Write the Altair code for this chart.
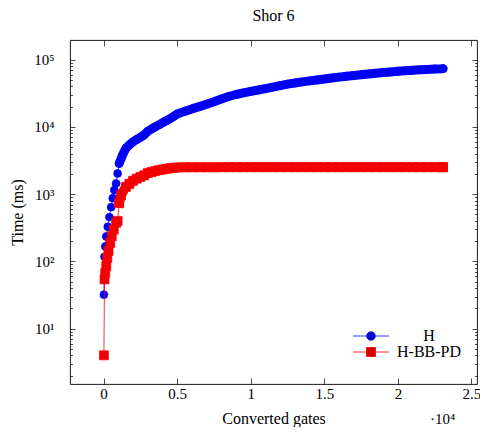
import altair as alt
import pandas as pd

# ---- data ----
series = ["H", "H-BB-PD"]

h_gates = [20, 60, 110, 180, 280, 390, 510, 620, 730, 850, 950, 1060, 1290, 1510,
           1750, 2000, 2250, 2500, 2750, 3000, 3250, 3500, 3750, 4000, 4250, 4500, 4750,
           5000, 5500, 6000, 6500, 7000, 7500, 8000, 8500, 9000, 9500, 10000, 10500,
           11000, 11500, 12000, 12500, 13000, 13500, 14000, 14500, 15000, 15500, 16000,
           16500, 17000, 17500, 18000, 18500, 19000, 19500, 20000, 20500, 21000, 21500,
           22000, 22500, 23000, 23070]
h_time = [32, 117, 166, 234, 327, 455, 640, 870, 1150, 1440, 2030, 2860, 3830, 4800,
          5400, 6000, 6500, 7000, 7600, 8600, 9300, 10000, 10700, 11500, 12300, 13200, 14300,
          15500, 17000, 18500, 20000, 21700, 23700, 26000, 28300, 30300, 32000, 33700, 35300,
          37000, 39000, 41000, 43200, 45000, 46700, 48300, 49900, 51500, 53300, 55000,
          56600, 58200, 59800, 61300, 62800, 64300, 65700, 67000, 68200, 69400, 70500,
          71500, 72500, 73300, 73500]

r_gates = [20, 60, 110, 180, 250, 330, 450, 550, 690, 850, 950, 1060, 1180, 1510,
           1750, 2000, 2250, 2500, 2750, 3000, 3250, 3500, 3750, 4000, 4250, 4500, 4750,
           5000, 5500, 6000, 6500, 7000, 7500, 8000, 8500, 9000, 9500, 10000, 10500,
           11000, 11500, 12000, 12500, 13000, 13500, 14000, 14500, 15000, 15500, 16000,
           16500, 17000, 17500, 18000, 18500, 19000, 19500, 20000, 20500, 21000, 21500,
           22000, 22500, 23000, 23070]
r_time = [4, 54, 67, 85, 113, 142, 188, 236, 297, 375, 400, 740, 960, 1280,
          1420, 1580, 1700, 1800, 1900, 2050, 2130, 2200, 2270, 2320, 2380, 2420, 2460,
          2490, 2500, 2500, 2500, 2500, 2500, 2510, 2510, 2510, 2510, 2510, 2510,
          2510, 2510, 2510, 2510, 2510, 2510, 2510, 2510, 2510, 2510, 2510,
          2510, 2510, 2510, 2510, 2510, 2510, 2510, 2510, 2510, 2510, 2510,
          2510, 2510, 2510, 2510]

x_tick_values = [0, 5000, 10000, 15000, 20000, 25000]
y_label_values = [10, 100, 1000, 10000, 100000]

# ---- layout ----
W, H = 407, 344
XD = [-2285, 25375]
YD = [1.50, 195900]
FONT = "Liberation Serif"
FS = 16
BAND_START = 1000  # beyond this the markers are so dense they form a solid band

df_h = pd.DataFrame({"gates": h_gates, "time": h_time, "series": "H"})
df_r = pd.DataFrame({"gates": r_gates, "time": r_time, "series": "H-BB-PD"})
df_all = pd.concat([df_h, df_r], ignore_index=True)

y_all_ticks = [m * 10 ** k for k in range(0, 6) for m in range(1, 10)
               if YD[0] <= m * 10 ** k <= YD[1]]
major_test = "abs(log(datum.value)/LN10 - round(log(datum.value)/LN10)) < 0.01"
y_tick_size = {"condition": {"test": major_test, "value": 5}, "value": 2.5}

xs = alt.Scale(domain=XD, nice=False, zero=False)
ys = alt.Scale(type="log", domain=YD, nice=False)

sup = "['\u2070','\u00b9','\u00b2','\u00b3','\u2074','\u2075']"

x_main = alt.X("gates:Q", scale=xs, axis=alt.Axis(
    values=x_tick_values, labelExpr="'' + datum.value/10000", title="Converted gates",
    tickSize=0, domain=False, grid=False, labelPadding=2, titlePadding=9,
    labelFlush=False, labelOverlap=False,
    labelFont=FONT, labelFontSize=FS - 1, titleFont=FONT, titleFontSize=FS,
    titleFontWeight="normal", labelColor="black", titleColor="black"))
y_main = alt.Y("time:Q", scale=ys, axis=alt.Axis(
    values=y_label_values,
    labelExpr="'10' + " + sup + "[round(log(datum.value)/LN10)]",
    title="Time (ms)", tickSize=0, domain=False, grid=False, labelPadding=16,
    labelFlush=False, labelOverlap=False,
    titlePadding=8, labelFont=FONT, labelFontSize=FS - 1, titleFont=FONT,
    titleFontSize=FS, titleFontWeight="normal", labelColor="black", titleColor="black"))

base_h = alt.Chart(df_h)
base_r = alt.Chart(df_r)

band_h = base_h.transform_filter(alt.datum.gates >= BAND_START).mark_line(
    color="#0000ff", strokeWidth=9, strokeCap="round", strokeJoin="round").encode(x=x_main, y=y_main)
line_h = base_h.mark_line(color="#0000ff", strokeWidth=0.8).encode(x=x_main, y=y_main)
pts_h = base_h.mark_point(shape="circle", filled=True, fill="#0000f0", stroke="#0000ff",
                          strokeWidth=0.7, size=62, opacity=1).encode(x=x_main, y=y_main)
band_r = base_r.transform_filter(alt.datum.gates >= BAND_START).mark_line(
    color="#ff0000", strokeWidth=9.5, strokeCap="square", strokeJoin="miter").encode(x=x_main, y=y_main)
line_r = base_r.mark_line(color="#ff0000", strokeWidth=0.8).encode(x=x_main, y=y_main)
pts_r = base_r.mark_point(shape="square", filled=True, fill="#f00000", stroke="#ff0000",
                          strokeWidth=0.7, size=81, opacity=1).encode(x=x_main, y=y_main)

circle_path = "M-3.6,0L3.6,0M0.86,0A0.86,0.86,0,1,1,-0.86,0A0.86,0.86,0,1,1,0.86,0Z"
square_path = "M-3.6,0L3.6,0M-0.9,-0.9L0.9,-0.9L0.9,0.9L-0.9,0.9Z"

leg = alt.Legend(title=None, orient="none", legendX=293, legendY=288, padding=0,
                 symbolSize=100, symbolStrokeWidth=0.8, labelFont=FONT, labelFontSize=FS,
                 labelColor="black", labelOffset=50, labelAlign="center", rowPadding=0)
legend_layer = alt.Chart(df_all).transform_filter("datum.time < 0").mark_point(
    filled=True, size=100, strokeWidth=0.8, opacity=1).encode(
    x=x_main, y=y_main,
    fill=alt.Fill("series:N", scale=alt.Scale(domain=series, range=["#0000cc", "#cc0000"]), legend=leg),
    stroke=alt.Stroke("series:N", scale=alt.Scale(domain=series, range=["#0000ff", "#ff0000"]), legend=leg),
    shape=alt.Shape("series:N", scale=alt.Scale(domain=series, range=[circle_path, square_path]), legend=leg),
)

data_group = alt.layer(band_h, line_h, pts_h, band_r, line_r, pts_r, legend_layer)

# ---- inward tick marks (pgfplots style) on all four sides ----
anchor = pd.DataFrame({"gates": [0], "time": [10]})

ticks_a = alt.Chart(anchor).mark_point(opacity=0).encode(
    x=alt.X("gates:Q", scale=xs, axis=alt.Axis(
        orient="top", offset=-H, values=x_tick_values, labels=False, domain=False,
        grid=False, tickSize=6, tickColor="black", tickWidth=0.7,
        title="\u00b710\u2074", titleX=372, titleY=39, titleAngle=0, titleAlign="center",
        titleBaseline="alphabetic", titleFont=FONT, titleFontSize=FS - 1,
        titleFontWeight="normal", titleColor="black")),
    y=alt.Y("time:Q", scale=ys, axis=alt.Axis(
        orient="right", offset=-W, values=y_all_ticks, labels=False, domain=False,
        grid=False, tickSize=y_tick_size, tickColor="black", tickWidth=0.7, title=None)),
)
ticks_b = alt.Chart(anchor).mark_point(opacity=0).encode(
    x=alt.X("gates:Q", scale=xs, axis=alt.Axis(
        orient="bottom", offset=-H, values=x_tick_values, labels=False, domain=False,
        grid=False, tickSize=6, tickColor="black", tickWidth=0.7, title=None)),
    y=alt.Y("time:Q", scale=ys, axis=alt.Axis(
        orient="left", offset=-W, values=y_all_ticks, labels=False, domain=False,
        grid=False, tickSize=y_tick_size, tickColor="black", tickWidth=0.7, title=None)),
)

chart = alt.layer(data_group, ticks_a, ticks_b).resolve_scale(
    x="independent", y="independent"
).properties(
    width=W, height=H,
    title=alt.TitleParams("Shor 6", font=FONT, fontSize=FS, fontWeight="normal",
                          color="black", anchor="middle", offset=16),
    padding={"left": 62, "top": 32, "right": 3, "bottom": 43},
    autosize=alt.AutoSizeParams(type="none"),
).configure_view(stroke="black", strokeWidth=0.9)

chart.save("out.html", embed_options={"renderer": "svg", "actions": False})
